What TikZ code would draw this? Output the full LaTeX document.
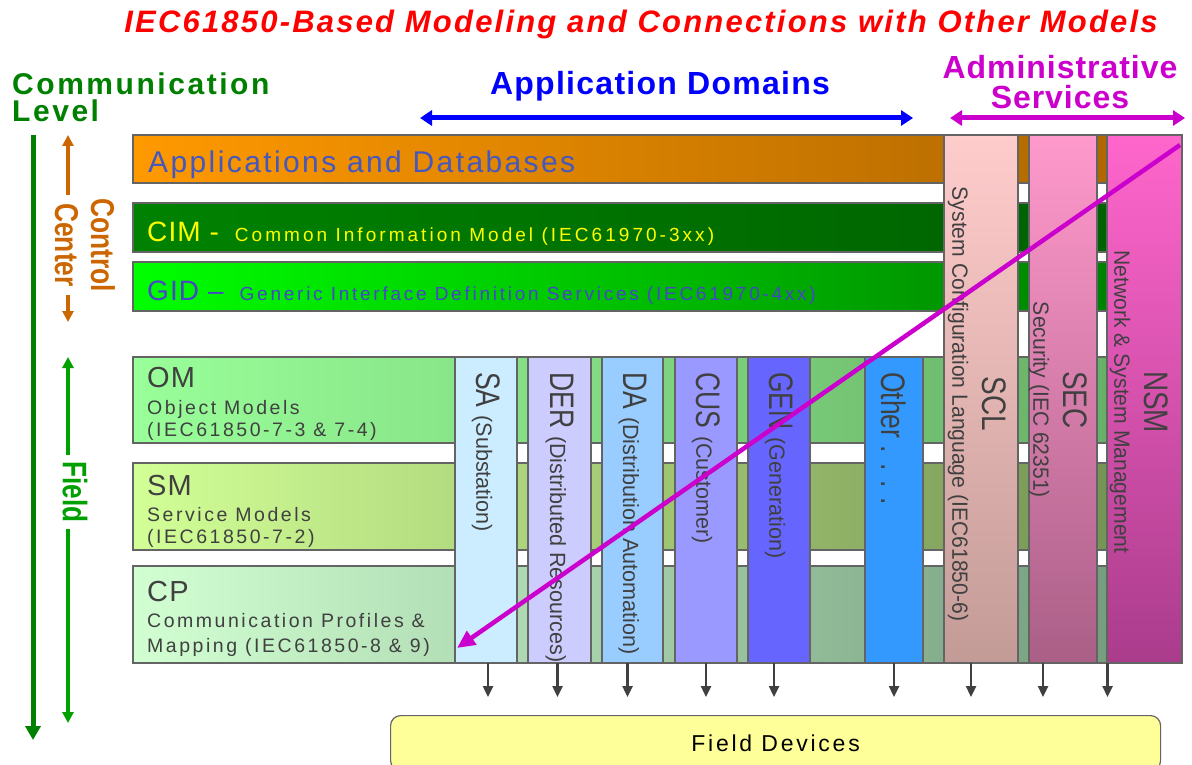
\documentclass[tikz,border=0pt]{standalone}
\usepackage{fontspec}
\usepackage{graphicx}
\setmainfont{Liberation Sans}
\usetikzlibrary{positioning,arrows.meta}

\newcommand\colBig[1]{\scalebox{0.78}[1]{\fontsize{34}{34}\selectfont #1}}
\newcommand\colSmall[1]{\scalebox{0.98}[1]{\fontsize{22}{22}\selectfont #1}}
\newcommand\admBig[1]{\scalebox{0.82}[1]{\fontsize{34}{34}\selectfont #1}}
\newcommand\admSmall[1]{\scalebox{0.96}[1]{\fontsize{22}{22}\selectfont #1}}
\newcommand\sized[2]{\fontsize{#1}{#1}\selectfont\addfontfeatures{LetterSpace=#2}}

\tikzset{
  layerBar/.style={draw=edgeColor, line width=1.2pt, anchor=north west, inner sep=0pt, outer sep=0pt, minimum width=1049pt},
  domainCol/.style={draw=edgeColor, line width=1.2pt, anchor=north west, inner sep=0pt, outer sep=0pt, minimum height=306pt},
  adminCol/.style={domainCol, minimum height=528pt},
  colLabel/.style={rotate=-90, text=labelColor, inner sep=0pt, align=center, font=\fontsize{22}{30}\selectfont},
  barText/.style={anchor=base west, inner sep=0pt, text=labelColor},
  downArrow/.style={draw=labelColor, line width=2.4pt, -{Triangle[length=11pt,width=10pt]}, shorten >=18pt},
}

\begin{document}
\begin{tikzpicture}[x=1pt,y=-1pt]
\definecolor{edgeColor}{RGB}{100,100,100}
\definecolor{labelColor}{RGB}{64,64,64}
\definecolor{titleColor}{RGB}{255,0,0}
\definecolor{levelColor}{RGB}{0,128,0}
\definecolor{centerColor}{RGB}{204,102,0}
\definecolor{fieldColor}{RGB}{0,160,0}
\definecolor{domainColor}{RGB}{0,0,255}
\definecolor{adminColor}{RGB}{204,0,204}
\definecolor{diagColor}{RGB}{204,0,204}
\definecolor{appsText}{RGB}{70,88,190}
\definecolor{gidText}{RGB}{70,70,200}
\definecolor{cimText}{RGB}{255,255,0}
\useasboundingbox (0,0) rectangle (1192,765);
\clip (0,0) rectangle (1192,765);

% headings
\node[anchor=base, inner sep=0pt, text=titleColor, font=\bfseries\itshape\sized{31}{7.1}] (title) at (641,33)
  {IEC61850-Based Modeling and Connections with Other Models};
\node[anchor=west, inner sep=0pt, align=left, text=levelColor, font=\bfseries\fontsize{30}{27}\selectfont\addfontfeatures{LetterSpace=8.5}] (level) at (12,97)
  {Communication\\Level};
\node[anchor=base, inner sep=0pt, text=domainColor, font=\bfseries\sized{32}{4}] (domains) at (660,95) {Application Domains};
\node[inner sep=0pt, align=center, text=adminColor, font=\bfseries\fontsize{32}{30}\selectfont\addfontfeatures{LetterSpace=3}] (admin) at (1060,82)
  {Administrative\\Services};

\coordinate (domL) at (420,118);
\coordinate (domR) at (913,118);
\coordinate (admL) at (950,118);
\coordinate (admR) at (1185,118);
\draw[domainColor, line width=5pt, {Triangle[length=12pt,width=15pt]}-{Triangle[length=12pt,width=15pt]}] (domL) -- (domR);
\draw[adminColor, line width=5pt, {Triangle[length=12pt,width=15pt]}-{Triangle[length=12pt,width=15pt]}] (admL) -- (admR);

% communication level arrows
\coordinate (lvlTop) at (33,135);
\coordinate (lvlBot) at (33,740);
\draw[levelColor, line width=5pt, -{Triangle[length=14pt,width=15pt]}] (lvlTop) -- (lvlBot);
\coordinate (ccTop) at (68,135);
\coordinate (ccBot) at (68,322);
\draw[centerColor, line width=4pt, {Triangle[length=11pt,width=11pt]}-{Triangle[length=11pt,width=11pt]}] (ccTop) -- (ccBot);
\node[rotate=-90, fill=white, inner sep=3pt, align=center, text=centerColor, font=\bfseries\fontsize{33}{36}\selectfont] (ccText) at (85,245)
  {\scalebox{0.8}[1]{Control}\\\scalebox{0.8}[1]{Center}};
\coordinate (fldTop) at (68,357);
\coordinate (fldBot) at (68,723);
\draw[fieldColor, line width=4pt, {Triangle[length=11pt,width=11pt]}-{Triangle[length=11pt,width=11pt]}] (fldTop) -- (fldBot);
\node[rotate=-90, fill=white, inner sep=6pt, text=fieldColor, font=\bfseries\fontsize{34}{34}\selectfont] (fldText) at (75,492)
  {\scalebox{0.77}[1]{Field}};

% horizontal layers
\node[layerBar, minimum height=48pt, left color={rgb,255:red,255;green,153;blue,0}, right color={rgb,255:red,170;green,100;blue,0}] (apps) at (133,135) {};
\node[layerBar, minimum height=49pt, left color={rgb,255:red,0;green,130;blue,0}, right color={rgb,255:red,0;green,95;blue,0}] (cim) at (133,203) {};
\node[layerBar, minimum height=49pt, left color={rgb,255:red,0;green,255;blue,0}, right color={rgb,255:red,0;green,120;blue,0}] (gid) at (133,262) {};
\node[layerBar, minimum height=86pt, left color={rgb,255:red,153;green,255;blue,153}, right color={rgb,255:red,100;green,170;blue,100}] (om) at (133,357) {};
\node[layerBar, minimum height=87pt, left color={rgb,255:red,210;green,255;blue,150}, right color={rgb,255:red,110;green,140;blue,80}] (sm) at (133,463) {};
\node[layerBar, minimum height=97pt, left color={rgb,255:red,210;green,255;blue,210}, right color={rgb,255:red,110;green,150;blue,120}] (cp) at (133,566) {};

\node[barText, text=appsText, font=\sized{30}{8}] (appsText) at (148,172) {Applications and Databases};
\node[barText, text=cimText] (cimText) at (147,241)
  {{\sized{28}{4}CIM -}\hspace{16pt}{\sized{19}{16}Common Information Model (IEC61970-3xx)}};
\node[barText, text=gidText] (gidText) at (147,300)
  {{\sized{28}{4}GID --}\hspace{16pt}{\sized{19}{14.5}Generic Interface Definition Services (IEC61970-4xx)}};
\node[barText, font=\sized{29}{4}] (omHead) at (147,387) {OM};
\node[barText, font=\sized{19.5}{13}] (omLine1) at (147,414) {Object Models};
\node[barText, font=\sized{19.5}{13}] (omLine2) at (147,436) {(IEC61850-7-3 \& 7-4)};
\node[barText, font=\sized{29}{4}] (smHead) at (147,495) {SM};
\node[barText, font=\sized{19.5}{13}] (smLine1) at (147,521) {Service Models};
\node[barText, font=\sized{19.5}{13}] (smLine2) at (147,543) {(IEC61850-7-2)};
\node[barText, font=\sized{29}{4}] (cpHead) at (147,601) {CP};
\node[barText, font=\sized{19.5}{13}] (cpLine1) at (147,627) {Communication Profiles \&};
\node[barText, font=\sized{19.5}{13}] (cpLine2) at (147,652) {Mapping (IEC61850-8 \& 9)};

% application domains
\node[domainCol, minimum width=62pt, fill={rgb,255:red,204;green,236;blue,255}] (sa) at (455,357) {};
\node[domainCol, minimum width=63pt, fill={rgb,255:red,204;green,204;blue,255}] (der) at (528,357) {};
\node[domainCol, minimum width=61pt, fill={rgb,255:red,153;green,204;blue,255}] (da) at (602,357) {};
\node[domainCol, minimum width=62pt, fill={rgb,255:red,153;green,153;blue,255}] (cus) at (675,357) {};
\node[domainCol, minimum width=62pt, fill={rgb,255:red,102;green,102;blue,255}] (gen) at (748,357) {};
\node[domainCol, minimum width=58pt, fill={rgb,255:red,51;green,153;blue,255}] (other) at (865,357) {};

\node[colLabel, anchor=west] (saText) at ([yshift=-15pt]sa.north) {\colBig{SA}\hspace{8pt}\colSmall{(Substation)}};
\node[colLabel, anchor=west] (derText) at ([yshift=-15pt]der.north) {\colBig{DER}\hspace{8pt}\colSmall{(Distributed Resources)}};
\node[colLabel, anchor=west] (daText) at ([yshift=-15pt]da.north) {\colBig{DA}\hspace{8pt}\colSmall{(Distribution Automation)}};
\node[colLabel, anchor=west] (cusText) at ([yshift=-15pt]cus.north) {\colBig{CUS}\hspace{8pt}\colSmall{(Customer)}};
\node[colLabel, anchor=west] (genText) at ([yshift=-15pt]gen.north) {\colBig{GEN}\hspace{8pt}\colSmall{(Generation)}};
\node[colLabel, anchor=west] (otherText) at ([yshift=-15pt]other.north) {\colBig{Other . . . .}};

% administrative services
\node[adminCol, minimum width=74pt, top color={rgb,255:red,255;green,204;blue,204}, bottom color={rgb,255:red,195;green,155;blue,150}] (scl) at (944,135) {};
\node[adminCol, minimum width=68pt, top color={rgb,255:red,255;green,153;blue,204}, bottom color={rgb,255:red,170;green,95;blue,135}] (sec) at (1029,135) {};
\node[adminCol, minimum width=75pt, top color={rgb,255:red,255;green,102;blue,204}, bottom color={rgb,255:red,170;green,60;blue,140}] (nsm) at (1107,135) {};

\node[colLabel] (sclText) at (977,404) {\admBig{SCL}\\\admSmall{System Configuration Language (IEC61850-6)}};
\node[colLabel] (secText) at (1058,400) {\admBig{SEC}\\\admSmall{Security (IEC 62351)}};
\node[colLabel] (nsmText) at (1139,402) {\admBig{NSM}\\\admSmall{Network \& System Management}};

% field devices
\node[draw=edgeColor, line width=1.2pt, rounded corners=10pt, fill={rgb,255:red,255;green,255;blue,153}, anchor=north west,
  minimum width=770pt, minimum height=55pt, font=\sized{23}{12}] (fd) at (390,715) {Field Devices};

\coordinate (saFoot) at ([xshift=2pt]sa.south);
\coordinate (derFoot) at ([xshift=-2pt]der.south);
\coordinate (daFoot) at ([xshift=-5pt]da.south);
\coordinate (cusFoot) at (cus.south);
\coordinate (genFoot) at ([xshift=-5pt]gen.south);
\coordinate (otherFoot) at (other.south);
\coordinate (sclFoot) at ([xshift=-10pt]scl.south);
\coordinate (secFoot) at ([xshift=-20pt]sec.south);
\coordinate (nsmFoot) at ([xshift=-37pt]nsm.south);
\foreach \f in {saFoot,derFoot,daFoot,cusFoot,genFoot,otherFoot,sclFoot,secFoot,nsmFoot}
  \draw[downArrow] (\f) -- (\f |- fd.north);

% diagonal
\coordinate (diagStart) at (1180,145);
\draw[diagColor, line width=4.5pt, -{Triangle[length=18pt,width=16pt]}] (diagStart) -- ([xshift=2pt,yshift=15pt]sa.south west);
\end{tikzpicture}
\end{document}
